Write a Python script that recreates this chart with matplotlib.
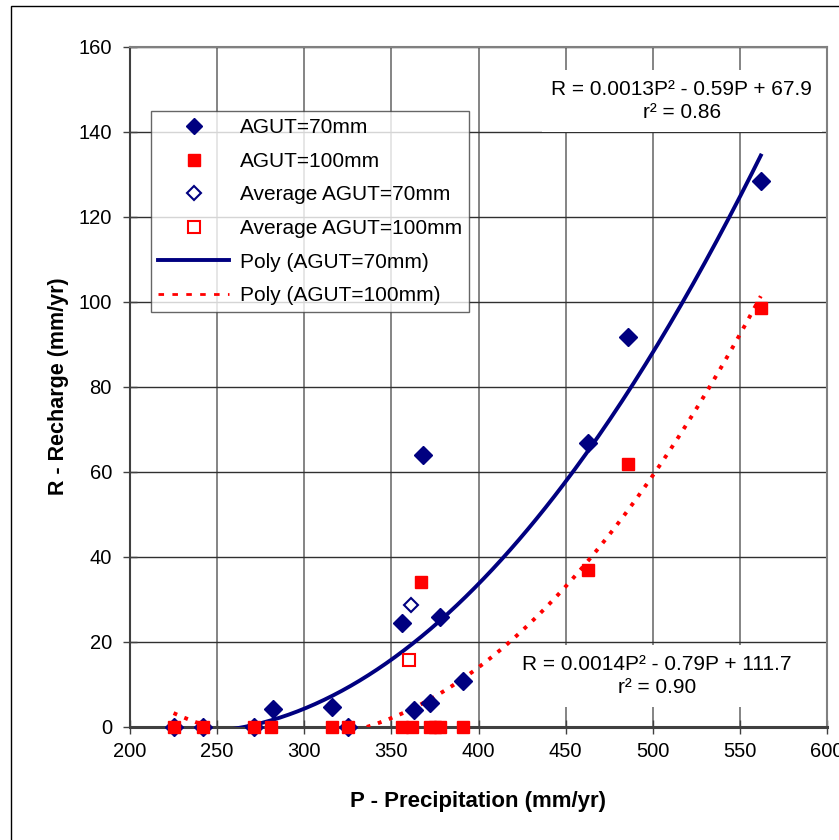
import matplotlib.pyplot as plt
import numpy as np
from matplotlib.lines import Line2D

plt.rcParams['font.family'] = ['Liberation Sans', 'DejaVu Sans']

# Dados (P em mm/ano, R em mm/ano)
p70 = [225, 242, 271, 282, 316, 325, 356, 363, 368, 372, 378, 391, 463, 486, 562]
r70 = [0, 0, 0, 4.1, 4.7, 0, 24.4, 4.0, 64.0, 5.6, 25.8, 10.8, 66.7, 91.6, 128.4]
p100 = [225, 242, 271, 281, 316, 325, 356, 362, 367, 372, 375, 378, 391, 463, 486, 562]
r100 = [0, 0, 0, 0, 0, 0, 0, 0, 34.0, 0, 0, 0, 0, 36.8, 61.8, 98.5]
avg70 = ([361], [28.6])
avg100 = ([360], [15.6])

eq70 = 'R = 0.0013P² - 0.59P + 67.9\nr² = 0.86'
eq100 = 'R = 0.0014P² - 0.79P + 111.7\nr² = 0.90'

navy = '#000080'
red = '#FF0000'

fig = plt.figure(figsize=(8.39, 8.40), dpi=100)
ax = fig.add_axes([130 / 839, 1 - 726.5 / 840, 697 / 839, 680 / 840])

# moldura externa
fig.add_artist(plt.Rectangle((11 / 839, -0.1), 1.2, 1.1 - 6 / 840,
                             transform=fig.transFigure, fill=False,
                             edgecolor='black', lw=1))

ax.set_xlim(200, 600)
ax.set_ylim(0, 160)
ax.set_xticks(np.arange(200, 601, 50))
ax.set_yticks(np.arange(0, 161, 20))
ax.xaxis.grid(True, color='#707070', lw=1.2)
ax.yaxis.grid(True, color='#303030', lw=1)
ax.set_axisbelow(True)
for s in ['top', 'right']:
    ax.spines[s].set_color('#808080')
    ax.spines[s].set_linewidth(1.5)
ax.spines['left'].set_color('#404040')
ax.spines['left'].set_linewidth(1.5)
ax.spines['bottom'].set_color('#404040')
ax.spines['bottom'].set_linewidth(2.2)
ax.tick_params(direction='inout', length=10, width=1, color='#404040',
               labelsize=14.5)
ax.tick_params(axis='y', pad=8)
ax.tick_params(axis='x', pad=6)

# Linhas de tendência polinomiais (2º grau)
xs = np.linspace(min(p70), max(p70), 200)
c70 = np.polyfit(p70, r70, 2)
c100 = np.polyfit(p100, r100, 2)
ax.plot(xs, np.polyval(c70, xs), color=navy, lw=2.8, zorder=3)
ax.plot(xs, np.polyval(c100, xs), color=red, lw=2.8, ls=(0, (1, 2)), zorder=3)

ax.plot(p70, r70, ls='none', marker='D', ms=9, color=navy, zorder=4, clip_on=False)
ax.plot(p100, r100, ls='none', marker='s', ms=8.5, color=red, zorder=5, clip_on=False)
ax.plot(*avg70, ls='none', marker='D', ms=7, mfc='white', mec=navy, mew=1.5, zorder=4)
ax.plot(*avg100, ls='none', marker='s', ms=8.5, mfc='white', mec=red, mew=1.5, zorder=4)

ax.text(516.7, 147.2, eq70, ha='center', va='center', fontsize=15, linespacing=1.3,
        zorder=6, bbox=dict(facecolor='white', edgecolor='none', pad=7))
ax.text(502.4, 11.9, eq100, ha='center', va='center', fontsize=15, linespacing=1.3,
        zorder=6, bbox=dict(facecolor='white', edgecolor='none', pad=7))

ax.set_xlabel('P - Precipitation (mm/yr)', fontsize=16, fontweight='bold', labelpad=22)
ax.set_ylabel('R - Recharge (mm/yr)', fontsize=15.5, fontweight='bold', labelpad=7)

handles = [
    Line2D([], [], ls='none', marker='D', ms=8, color=navy),
    Line2D([], [], ls='none', marker='s', ms=8, color=red),
    Line2D([], [], ls='none', marker='D', ms=7, mfc='white', mec=navy, mew=1.5),
    Line2D([], [], ls='none', marker='s', ms=8, mfc='white', mec=red, mew=1.5),
    Line2D([], [], color=navy, lw=2.8),
    Line2D([], [], color=red, lw=2, ls=(0, (2, 3))),
]
labels = ['AGUT=70mm', 'AGUT=100mm', 'Average AGUT=70mm', 'Average AGUT=100mm',
          'Poly (AGUT=70mm)', 'Poly (AGUT=100mm)']
leg = ax.legend(handles, labels, loc='upper left', bbox_to_anchor=(21 / 697, (726.5 - 111) / 680),
                prop={'size': 15}, frameon=True, fancybox=False, edgecolor='#404040',
                handlelength=3.4, labelspacing=0.7, borderpad=0.35, handletextpad=0.5,
                borderaxespad=0)
leg.get_frame().set_linewidth(1)
leg.set_zorder(7)

fig.savefig('out.png', dpi=100)
